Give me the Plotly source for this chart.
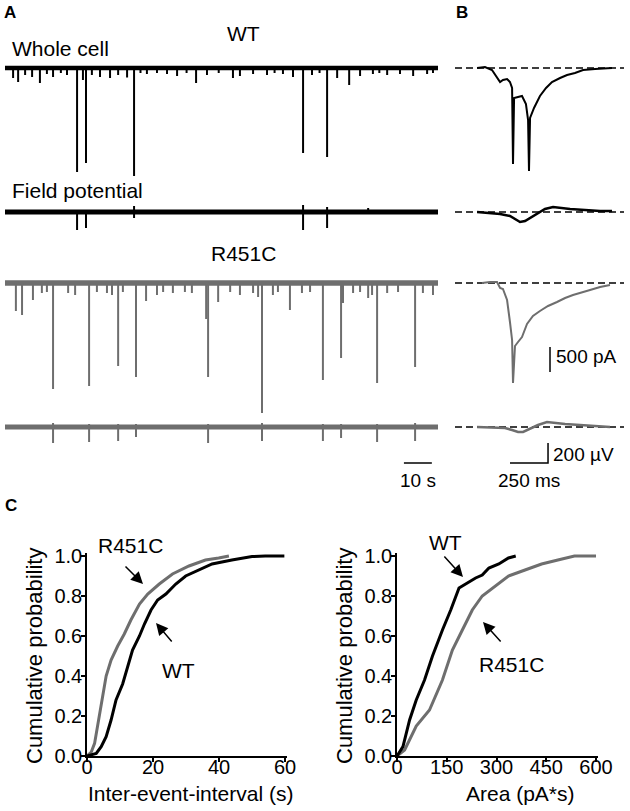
import plotly.graph_objects as go

W, H = 630, 811
FONT = "Liberation Sans, Arial, sans-serif"
BLACK = "black"
GREY = "#6e6e6e"

# ---------------- panel A: raw traces (events) ----------------
# whole cell, WT: times (s), amplitudes (pA, downward)
wt_cell_t = [2.9, 4.7, 7.2, 9.7, 12.5, 15.0, 17.2, 20.0, 22.2, 25.8, 27.9, 29.0, 31.1, 34.0,
             37.6, 40.5, 43.7, 46.2, 48.5, 50.8, 54.4, 58.0, 61.6, 65.0, 68.4, 72.3, 76.5,
             81.6, 84.1, 88.8, 93.8, 96.5, 99.5, 103.1, 106.7, 109.9, 112.6, 115.3, 118.9,
             123.2, 127.1, 131.7, 134.0, 136.8, 141.4, 146.1, 151.1, 153.2]
wt_cell_amp = [200, 280, 140, 180, 300, 120, 180, 100, 140, 2080, 240, 1900, 140, 180,
               200, 140, 190, 2160, 100, 120, 100, 120, 160, 100, 300, 140, 100,
               200, 160, 120, 140, 100, 120, 180, 1700, 140, 100, 1780, 200,
               340, 160, 120, 100, 140, 120, 160, 120, 100]

# field potential, WT: times (s), downward / upward deflections (uV)
wt_field_t = [25.8, 29.0, 46.2, 106.7, 115.3, 130.0]
wt_field_down = [180, 160, 60, 180, 160, 0]
wt_field_up = [20, 20, 60, 70, 50, 40]

# whole cell, R451C
r4_cell_t = [3.9, 6.1, 10.0, 13.2, 15.0, 17.2, 22.6, 25.1, 30.1, 32.9, 36.5, 38.3, 40.5,
             42.2, 46.9, 50.5, 54.4, 56.6, 60.1, 64.4, 66.9, 72.0, 72.7, 76.3, 80.6, 84.1,
             88.8, 90.6, 92.0, 95.9, 97.7, 102.0, 106.3, 109.2, 113.8, 120.3, 121.0, 124.6,
             127.1, 130.0, 131.4, 133.2, 136.8, 140.7, 146.8, 149.6, 153.2, 156.4]
r4_cell_amp = [560, 640, 340, 200, 180, 2120, 200, 240, 2060, 180, 200, 240, 1660,
               180, 1880, 360, 240, 180, 200, 180, 200, 720, 1880, 380, 180, 240,
               200, 280, 2600, 240, 180, 540, 200, 180, 1940, 1500, 400, 200,
               180, 300, 240, 2000, 200, 180, 1680, 200, 240, 200]

# field potential, R451C
r4_field_t = [17.2, 30.1, 40.5, 46.9, 72.7, 92.0, 113.8, 120.3, 133.2, 146.8]
r4_field_down = [160, 150, 140, 100, 160, 140, 140, 110, 150, 140]
r4_field_up = [40, 30, 30, 30, 30, 40, 30, 30, 30, 40]

wt_duration = 155.0
r4_duration = 157.5

# ---------------- panel B: averaged events ----------------
wt_avg_ms = [145, 197, 243, 276, 296, 315, 342, 361, 375, 381, 388, 414, 440, 466, 480, 486,
             493, 519, 558, 598, 637, 690, 736, 788, 841, 920, 986, 1031]
wt_avg_pa = [0, 20, -40, -200, -280, -240, -220, -280, -400, -1920, -600, -580, -560, -720,
             -1040, -2060, -1000, -800, -560, -400, -280, -200, -140, -100, -40, -20, 0, 0]

wt_favg_ms = [145, 230, 296, 361, 394, 427, 460, 493, 539, 591, 644, 690, 756, 854, 953, 1031]
wt_favg_uv = [0, -10, -20, -40, -70, -100, -90, -60, -10, 30, 50, 40, 30, 20, 10, 10]

r4_avg_ms = [177, 230, 276, 296, 315, 342, 361, 375, 381, 394, 414, 440, 473, 512, 558, 611,
             670, 723, 775, 834, 887, 953, 1018]
r4_avg_pa = [0, 20, 20, -100, -120, -340, -780, -1140, -2000, -1260, -1180, -1080, -820,
             -660, -560, -460, -380, -300, -240, -180, -140, -80, -40]

r4_favg_ms = [145, 263, 329, 375, 414, 447, 493, 545, 604, 657, 723, 821, 920, 1018]
r4_favg_uv = [0, -10, -10, -30, -50, -50, -20, 20, 50, 40, 30, 20, 10, 0]

# ---------------- panel C: cumulative distributions ----------------
iei_wt_x = [0, 2.8, 4.3, 5.8, 7.3, 8.8, 10.8, 12.3, 13.8, 15.9, 17.4, 19.4, 21.4, 23.9,
            26.9, 29.9, 33.9, 37.9, 43.9, 50.0, 54.0, 59.8]
iei_wt_y = [0, 0.013, 0.047, 0.097, 0.18, 0.28, 0.36, 0.45, 0.53, 0.60, 0.66, 0.73, 0.78,
            0.81, 0.86, 0.90, 0.93, 0.96, 0.98, 0.997, 1.0, 1.0]
iei_r4_x = [0, 1.3, 2.3, 3.3, 4.3, 5.8, 7.3, 9.3, 11.3, 13.3, 15.9, 18.4, 21.9, 25.9,
            30.9, 35.9, 39.9, 43.0]
iei_r4_y = [0, 0.02, 0.063, 0.16, 0.26, 0.40, 0.48, 0.55, 0.61, 0.68, 0.76, 0.81, 0.86,
            0.91, 0.95, 0.98, 0.99, 1.0]

area_wt_x = [0, 18, 38, 58, 83, 107, 137, 162, 187, 207, 237, 257, 277, 307, 336, 358]
area_wt_y = [0, 0.047, 0.18, 0.28, 0.38, 0.50, 0.63, 0.73, 0.84, 0.86, 0.89, 0.905, 0.94,
             0.96, 0.99, 1.0]
area_r4_x = [0, 23, 58, 98, 137, 167, 197, 227, 257, 297, 336, 386, 436, 485, 535, 600]
area_r4_y = [0, 0.03, 0.15, 0.23, 0.38, 0.53, 0.63, 0.73, 0.80, 0.85, 0.90, 0.93, 0.96,
             0.98, 1.0, 1.0]

iei_ticks = [0, 20, 40, 60]
area_ticks = [0, 150, 300, 450, 600]


def px(x):
    return x / W


def py(y):
    return 1 - y / H


def ydom(top, bottom):
    return [py(bottom), py(top)]


def yrange(top, bottom, base, per_px):
    return [-(bottom - base) * per_px, (base - top) * per_px]


def spikes(times, down, up=None):
    xs, ys = [], []
    for i, t in enumerate(times):
        xs += [t, t, None]
        ys += [up[i] if up else 0, -down[i], None]
    return xs, ys


fig = go.Figure()


def line(x, y, xa, ya, color, width, dash=None):
    fig.add_trace(go.Scatter(x=x, y=y, mode="lines", xaxis=xa, yaxis=ya, hoverinfo="skip",
                             line=dict(color=color, width=width, dash=dash), showlegend=False))


# panel A traces
line([0, wt_duration], [0, 0], "x", "y", BLACK, 4.5)
sx, sy = spikes(wt_cell_t, wt_cell_amp)
line(sx, sy, "x", "y", BLACK, 2)
line([0, wt_duration], [0, 0], "x", "y2", BLACK, 5)
sx, sy = spikes(wt_field_t, wt_field_down, wt_field_up)
line(sx, sy, "x", "y2", BLACK, 2)

line([0, r4_duration], [0, 0], "x", "y3", GREY, 5.5)
sx, sy = spikes(r4_cell_t, r4_cell_amp)
line(sx, sy, "x", "y3", GREY, 2)
line([0, r4_duration], [0, 0], "x", "y4", GREY, 5)
sx, sy = spikes(r4_field_t, r4_field_down, r4_field_up)
line(sx, sy, "x", "y4", GREY, 2)

# panel B: dashed baselines and averages
for ya in ["y", "y2", "y3", "y4"]:
    line([0, 1110], [0, 0], "x2", ya, BLACK, 1.5, "7px,4px")
line(wt_avg_ms, wt_avg_pa, "x2", "y", BLACK, 2)
line(wt_favg_ms, wt_favg_uv, "x2", "y2", BLACK, 2.5)
line(r4_avg_ms, r4_avg_pa, "x2", "y3", GREY, 2)
line(r4_favg_ms, r4_favg_uv, "x2", "y4", GREY, 2.5)

# scale bars
line([142.8, 152.8], [-360, -360], "x", "y4", BLACK, 1.5)
line([361, 611, 611], [-360, -360, -160], "x2", "y4", BLACK, 1.5)
line([624, 624], [-1280, -1780], "x2", "y3", BLACK, 1.5)

# panel C
line(iei_r4_x, iei_r4_y, "x3", "y5", GREY, 3)
line(iei_wt_x, iei_wt_y, "x3", "y5", BLACK, 3)
line(area_r4_x, area_r4_y, "x4", "y6", GREY, 3)
line(area_wt_x, area_wt_y, "x4", "y6", BLACK, 3)

hidden = dict(visible=False, fixedrange=True, automargin=False)
cax = dict(showline=True, linecolor=BLACK, linewidth=1.5, ticks="outside", ticklen=4,
           tickwidth=1.5, tickcolor=BLACK, showgrid=False, zeroline=False, automargin=False,
           tickfont=dict(family=FONT, size=20, color=BLACK))
cx = dict(cax, ticklabelstandoff=-12)
cy = dict(cax, ticklabelstandoff=-5)

fig.update_layout(
    width=W, height=H, autosize=False,
    margin=dict(l=0, r=0, t=0, b=0, pad=0, autoexpand=False),
    paper_bgcolor="white", plot_bgcolor="rgba(0,0,0,0)",
    xaxis=dict(hidden, domain=[px(5), px(438)], range=[0, wt_duration], anchor="y"),
    xaxis2=dict(hidden, domain=[px(455), px(624)], range=[0, 1110], anchor="y"),
    yaxis=dict(hidden, domain=ydom(55, 185), range=yrange(55, 185, 68, 20), anchor="x"),
    yaxis2=dict(hidden, domain=ydom(195, 240), range=yrange(195, 240, 212, 10), anchor="x"),
    yaxis3=dict(hidden, domain=ydom(270, 420), range=yrange(270, 420, 283, 20), anchor="x"),
    yaxis4=dict(hidden, domain=ydom(415, 470), range=yrange(415, 470, 427, 10), anchor="x"),
    xaxis3=dict(cx, domain=[px(87), px(287)], range=[0, 60.6], tickvals=iei_ticks, anchor="y5"),
    yaxis5=dict(cy, domain=[py(756), py(553)], range=[0, 1.015], dtick=0.2, tickformat=".1f",
                anchor="x3"),
    xaxis4=dict(cx, domain=[px(397), px(598)], range=[0, 606], tickvals=area_ticks, anchor="y6"),
    yaxis6=dict(cy, domain=[py(756), py(553)], range=[0, 1.015], dtick=0.2, tickformat=".1f",
                anchor="x4"),
)


def text(s, x, y, size=21, xanchor="center", yanchor="middle", bold=False, angle=0):
    fig.add_annotation(text="<b>%s</b>" % s if bold else s, x=px(x), y=py(y),
                       xref="paper", yref="paper", showarrow=False, xanchor=xanchor,
                       yanchor=yanchor, textangle=angle, borderpad=0,
                       font=dict(family=FONT, size=size, color=BLACK))


def arrow(tail, tip):
    fig.add_annotation(text="", x=px(tip[0]), y=py(tip[1]), xref="paper", yref="paper",
                       ax=tail[0] - tip[0], ay=tail[1] - tip[1], showarrow=True,
                       arrowhead=2, arrowsize=1.6, arrowwidth=1.5, arrowcolor=BLACK,
                       standoff=0)


text("A", 3, 2, 17, "left", "top", bold=True)
text("B", 455, 2, 17, "left", "top", bold=True)
text("C", 4, 495, 17, "left", "top", bold=True)
text("WT", 243, 33)
text("Whole cell", 11, 48, xanchor="left")
text("Field potential", 11, 190, xanchor="left")
text("R451C", 243, 253)
text("500 pA", 555, 357, 19, xanchor="left")
text("200 µV", 552, 454, 19, xanchor="left")
text("10 s", 418, 480, 19)
text("250 ms", 529, 480, 19)

text("Cumulative probability", 34, 656, 22, angle=-90)
text("Cumulative probability", 344, 656, 22, angle=-90)
text("Inter-event-interval (s)", 190, 793, 21)
text("Area (pA*s)", 520, 793, 21)

text("R451C", 130, 545, 21)
text("WT", 178, 670, 21)
text("WT", 445, 542, 21)
text("R451C", 511, 664, 21)
arrow((124, 565), (143, 584))
arrow((173, 643), (156, 623))
arrow((443, 555), (463, 577))
arrow((502, 643), (483, 622))

# the page body has a default 8px margin; drop it so the 630x811 figure fills the window
fig.write_html("out.html", config={"displayModeBar": False},
               post_script="document.body.style.margin='0';")
